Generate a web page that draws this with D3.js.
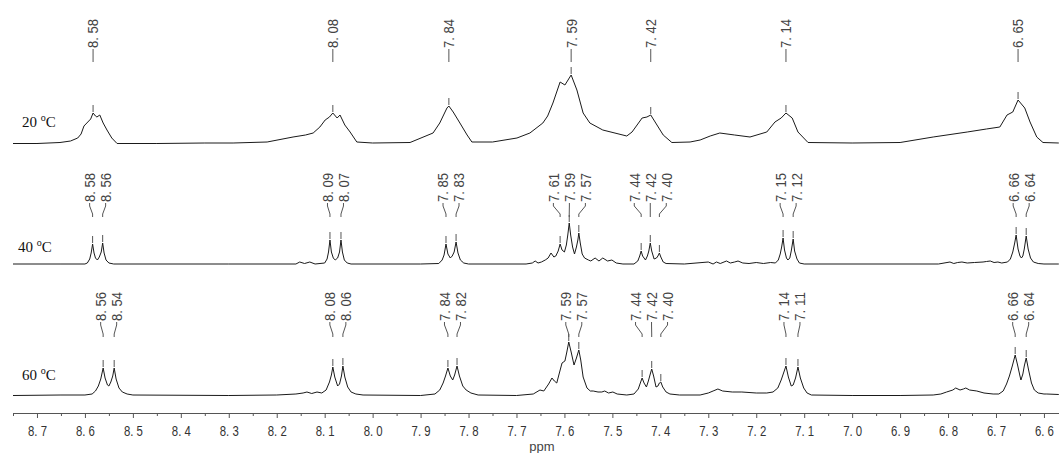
<!DOCTYPE html>
<html>
<head>
<meta charset="utf-8">
<script src="https://cdn.jsdelivr.net/npm/d3@7"></script>
<style>
  body { margin: 0; background: #fff; }
  svg { display: block; }
</style>
</head>
<body>
<div id="nmr"></div>
<script>
// spectra: [ppm, intensity a.u.]
const spec20 = [
  [8.750,0.5],[8.700,0.5],[8.652,1.5],[8.630,3],[8.615,6],[8.608,10],[8.602,18],[8.594,22],[8.588,25],[8.583,31],
  [8.578,28],[8.575,27],[8.569,29],[8.562,21],[8.554,14],[8.544,6],[8.533,0.5],[8.450,0.5],[8.350,1],[8.291,1],
  [8.220,2],[8.166,7],[8.140,9],[8.124,11],[8.110,17],[8.099,24],[8.090,27],[8.083,31],[8.074,26],[8.068,29],
  [8.058,19],[8.047,12],[8.033,2],[8.000,1],[7.922,1.5],[7.874,11],[7.860,21],[7.845,36],[7.841,38],[7.832,32],
  [7.818,21],[7.803,9],[7.793,2],[7.750,2],[7.699,6],[7.672,11],[7.645,21],[7.635,28],[7.624,41],[7.609,62],
  [7.599,59],[7.586,69],[7.574,54],[7.561,31],[7.547,21],[7.520,14],[7.470,8],[7.459,12],[7.438,26],[7.428,27],
  [7.420,29],[7.407,19],[7.394,9],[7.376,1.5],[7.338,2],[7.317,4],[7.296,8],[7.276,11],[7.245,9],[7.213,7],
  [7.178,12],[7.161,22],[7.148,26],[7.138,31],[7.125,26],[7.113,12],[7.092,1.5],[7.000,1],[6.900,1.5],[6.831,7],
  [6.760,12],[6.720,15],[6.692,17],[6.677,29],[6.665,32],[6.654,44],[6.640,36],[6.629,22],[6.615,7],[6.602,1.5],
  [6.569,1]
];
const spec40 = [
  [8.750,1],[8.650,1],[8.600,1],[8.595,2],[8.590,6],[8.587,12],[8.584,21],[8.581,12],[8.578,7],[8.574,5],
  [8.570,8],[8.566,13],[8.563,22],[8.560,12],[8.556,5],[8.550,2],[8.540,1],[8.300,1],[8.160,1],[8.152,3],
  [8.142,1.5],[8.131,3],[8.120,1],[8.100,2],[8.095,6],[8.092,13],[8.089,25],[8.086,13],[8.082,7],[8.078,5],
  [8.073,7],[8.069,13],[8.066,25],[8.063,13],[8.059,5],[8.053,2],[8.045,1],[7.900,1],[7.862,1.5],[7.855,5],
  [7.851,10],[7.847,21],[7.843,11],[7.838,7],[7.834,9],[7.830,13],[7.826,23],[7.822,12],[7.817,5],[7.810,2],
  [7.800,1],[7.680,1],[7.667,2],[7.661,4],[7.655,2],[7.648,3],[7.640,5],[7.634,7],[7.628,12],[7.622,8],
  [7.618,9],[7.613,14],[7.609,21],[7.605,15],[7.600,13],[7.596,20],[7.593,30],[7.590,42],[7.587,30],[7.583,18],
  [7.579,11],[7.575,18],[7.572,25],[7.570,32],[7.567,22],[7.563,11],[7.558,7],[7.550,5],[7.545,4],[7.536,7],
  [7.528,4],[7.520,7],[7.510,4],[7.501,5],[7.492,2],[7.478,1],[7.455,1],[7.447,4],[7.443,9],[7.440,14],
  [7.437,9],[7.431,5],[7.427,9],[7.424,14],[7.421,22],[7.418,14],[7.413,6],[7.408,7],[7.405,9],[7.402,12],
  [7.399,8],[7.394,3],[7.388,1.5],[7.350,1],[7.300,3],[7.290,1],[7.283,3],[7.275,1.5],[7.262,4],[7.254,2],
  [7.245,3],[7.238,4],[7.228,2],[7.215,1.5],[7.200,2.5],[7.185,1.5],[7.170,2.5],[7.160,2],[7.154,5],[7.150,11],
  [7.147,18],[7.144,27],[7.141,15],[7.137,7],[7.134,5],[7.130,7],[7.127,14],[7.123,26],[7.120,14],[7.115,6],
  [7.110,2],[7.100,1],[6.820,1],[6.796,3],[6.788,1.5],[6.780,2.5],[6.771,3],[6.760,2],[6.745,2.5],[6.727,3],
  [6.720,3.5],[6.712,4],[6.704,2.5],[6.696,3],[6.688,2],[6.676,3],[6.670,6],[6.665,13],[6.661,22],[6.658,30],
  [6.654,16],[6.650,9],[6.647,7],[6.644,9],[6.641,16],[6.637,29],[6.633,16],[6.628,7],[6.622,3],[6.612,1.5],
  [6.600,1],[6.569,1]
];
const spec60 = [
  [8.750,0.5],[8.650,1],[8.600,1],[8.585,2],[8.578,5],[8.572,10],[8.567,17],[8.562,28],[8.558,18],[8.553,11],
  [8.550,10],[8.546,14],[8.542,20],[8.539,28],[8.535,17],[8.529,8],[8.522,4],[8.512,2],[8.500,1],[8.300,0.5],
  [8.200,1],[8.160,2],[8.145,3],[8.137,4],[8.127,2.5],[8.116,4],[8.106,3],[8.097,6],[8.090,14],[8.086,21],
  [8.083,29],[8.079,19],[8.073,10],[8.069,12],[8.065,20],[8.062,30],[8.058,19],[8.052,9],[8.045,4],[8.035,2],
  [8.020,1],[7.900,0.5],[7.870,2],[7.860,6],[7.853,13],[7.848,20],[7.843,28],[7.838,20],[7.833,16],[7.829,21],
  [7.824,30],[7.819,20],[7.812,10],[7.805,6],[7.795,3],[7.780,1],[7.700,0.5],[7.665,2],[7.651,6],[7.643,5],
  [7.633,12],[7.626,18],[7.621,15],[7.616,13],[7.610,24],[7.605,33],[7.599,35],[7.595,44],[7.591,54],[7.586,44],
  [7.580,31],[7.575,38],[7.570,46],[7.566,36],[7.561,19],[7.553,8],[7.546,5],[7.540,5],[7.530,4],[7.522,4],
  [7.516,5],[7.508,3],[7.499,4],[7.490,2],[7.470,1],[7.455,2],[7.446,7],[7.441,14],[7.438,18],[7.434,13],
  [7.429,9],[7.425,15],[7.421,22],[7.418,27],[7.414,20],[7.409,9],[7.405,10],[7.402,13],[7.399,14],[7.395,9],
  [7.388,4],[7.380,2],[7.360,1],[7.317,1],[7.300,3],[7.290,5],[7.280,7],[7.270,5],[7.250,4],[7.230,4],
  [7.200,3],[7.178,3],[7.165,4],[7.155,8],[7.148,16],[7.143,23],[7.138,30],[7.133,19],[7.127,10],[7.123,11],
  [7.118,18],[7.113,29],[7.108,18],[7.101,8],[7.094,3],[7.085,1],[7.000,0.5],[6.900,0.5],[6.831,1],[6.815,2],
  [6.803,4],[6.790,6],[6.784,8],[6.775,6],[6.768,7],[6.763,8],[6.755,6],[6.740,5],[6.725,3],[6.706,2],
  [6.694,2],[6.685,5],[6.678,12],[6.672,20],[6.666,30],[6.660,41],[6.655,31],[6.650,20],[6.648,16],[6.644,22],
  [6.641,30],[6.637,38],[6.632,26],[6.626,13],[6.620,6],[6.612,3],[6.600,2],[6.594,2],[6.569,1.5]
];

// peak picking labels, grouped by multiplet
const peaks20 = [[8.58], [8.08], [7.84], [7.59], [7.42], [7.14], [6.65]];
const peaks40 = [[8.58, 8.56], [8.09, 8.07], [7.85, 7.83], [7.61, 7.59, 7.57], [7.44, 7.42, 7.40], [7.15, 7.12], [6.66, 6.64]];
const peaks60 = [[8.56, 8.54], [8.08, 8.06], [7.84, 7.82], [7.59, 7.57], [7.44, 7.42, 7.40], [7.14, 7.11], [6.66, 6.64]];

const temps = ["20", "40", "60"];
const majorTicks = [8.7, 8.6, 8.5, 8.4, 8.3, 8.2, 8.1, 8.0, 7.9, 7.8, 7.7, 7.6, 7.5, 7.4, 7.3, 7.2, 7.1, 7.0, 6.9, 6.8, 6.7, 6.6];
const minorTicks = [8.75, 8.65, 8.55, 8.45, 8.35, 8.25, 8.15, 8.05, 7.95, 7.85, 7.75, 7.65, 7.55, 7.45, 7.35, 7.25, 7.15, 7.05, 6.95, 6.85, 6.75, 6.65];

//dimensions
const w = 1059, h = 453;
const axisY = 413;

const svg = d3.select("#nmr")
    .append("svg")
    .attr("width", w)
    .attr("height", h);

const x = d3.scaleLinear().domain([8.75, 6.5686]).range([13, 1059]);

// layout of each stacked trace
const rows = [
    { data: spec20, peaks: peaks20, base: 144, textBottom: 48, leadEnd: 62, lx: 22, ly: 127 },
    { data: spec40, peaks: peaks40, base: 265, textBottom: 202, leadEnd: 217, lx: 18, ly: 252 },
    { data: spec60, peaks: peaks60, base: 396, textBottom: 321, leadEnd: 337, lx: 22, ly: 380 }
];

const labelFont = "'Liberation Sans', Arial, sans-serif";

function topNear(data, ppm) {
    // highest point of the trace near a picked peak
    let best = null;
    data.forEach(d => {
        if (Math.abs(d[0] - ppm) <= 0.0071 && (!best || d[1] > best[1])) best = d;
    });
    return best;
}

rows.forEach((r, i) => {
    const y = d3.scaleLinear().domain([0, 100]).range([r.base, r.base - 100]);
    const line = d3.line().x(d => x(d[0])).y(d => y(d[1]));

    svg.append("path")
        .datum(r.data)
        .attr("d", line)
        .attr("fill", "none")
        .attr("stroke", "#1a1a1a")
        .attr("stroke-width", 1)
        .attr("stroke-linejoin", "round");

    //temperature label
    const t = svg.append("text")
        .attr("x", r.lx)
        .attr("y", r.ly)
        .attr("font-family", "'Liberation Serif', 'Times New Roman', serif")
        .attr("font-size", 15)
        .attr("fill", "#111");
    t.append("tspan").text(temps[i] + " ");
    t.append("tspan").text("o").attr("font-size", 10).attr("dy", -6);
    t.append("tspan").text("C").attr("dy", 6);

    //peak labels
    const g = svg.append("g");
    r.peaks.forEach(group => {
        const tops = group.map(p => topNear(r.data, p));
        const px = tops.map(d => x(d[0]));
        const mid = d3.mean(px);
        group.forEach((p, k) => {
            const lx = group.length === 1 ? px[k] : mid + (k - (group.length - 1) / 2) * 16;
            const y0 = r.textBottom;
            g.append("text")
                .text(p.toFixed(2).replace(".", ". "))
                .attr("transform", `translate(${lx},${y0}) rotate(-90)`)
                .attr("dy", "0.36em")
                .attr("font-family", labelFont)
                .attr("font-size", 15)
                .attr("textLength", 29)
                .attr("lengthAdjust", "spacingAndGlyphs")
                .attr("fill", "#444");
            g.append("path")
                .attr("d", `M${lx},${y0 + 1}L${lx},${y0 + 4}L${px[k]},${r.leadEnd - 3}L${px[k]},${r.leadEnd}`)
                .attr("fill", "none")
                .attr("stroke", "#555")
                .attr("stroke-width", 1);
            const yt = y(tops[k][1]);
            g.append("line")
                .attr("x1", px[k]).attr("x2", px[k])
                .attr("y1", yt - 8).attr("y2", yt - 1)
                .attr("stroke", "#555")
                .attr("stroke-width", 1);
        });
    });
});

//axis
const xaxis = d3.axisBottom(x)
    .tickValues(majorTicks)
    .tickSize(5)
    .tickSizeOuter(0)
    .tickPadding(7)
    .tickFormat(d => d.toFixed(1).replace(".", ". "));
const xgrp = svg.append("g")
    .attr("transform", `translate(0,${axisY})`)
    .call(xaxis);
xgrp.selectAll("path, line").attr("stroke", "#555");
xgrp.selectAll("text")
    .attr("font-family", labelFont)
    .attr("font-size", 15)
    .attr("textLength", 19)
    .attr("lengthAdjust", "spacingAndGlyphs")
    .attr("fill", "#333");

const minor = svg.append("g")
    .attr("transform", `translate(0,${axisY})`)
    .call(d3.axisBottom(x).tickValues(minorTicks).tickSize(3).tickFormat(""));
minor.select(".domain").remove();
minor.selectAll("line").attr("stroke", "#555");

svg.append("text")
    .text("ppm")
    .attr("x", 542)
    .attr("y", 451)
    .attr("text-anchor", "middle")
    .attr("font-family", labelFont)
    .attr("font-size", 13)
    .attr("fill", "#444");
</script>
</body>
</html>
